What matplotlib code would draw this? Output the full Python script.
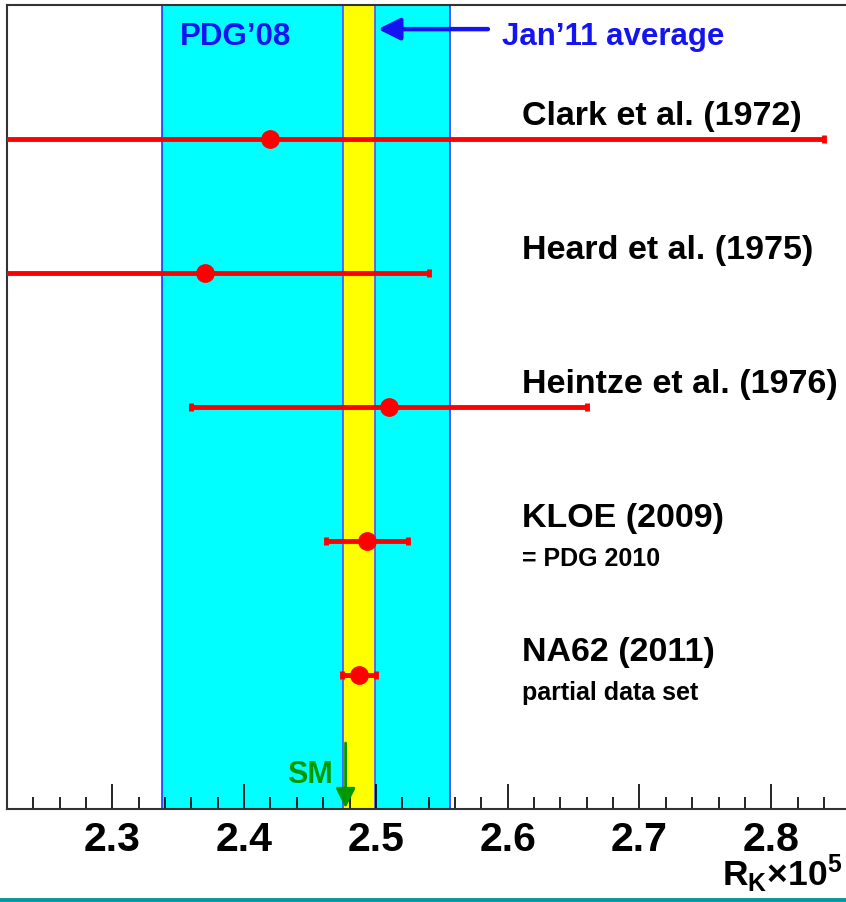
import numpy as np
import matplotlib
matplotlib.use('Agg')
import matplotlib.pyplot as plt
from matplotlib.lines import Line2D

plt.rcParams['font.family'] = ['Liberation Sans', 'DejaVu Sans']
plt.rcParams['font.weight'] = 'bold'
plt.rcParams['mathtext.fontset'] = 'custom'
plt.rcParams['mathtext.rm'] = 'Liberation Sans:bold'
plt.rcParams['mathtext.it'] = 'Liberation Sans:bold'
plt.rcParams['mathtext.bf'] = 'Liberation Sans:bold'

# R_K measurements (x 10^5)
experiments = ['Clark et al. (1972)', 'Heard et al. (1975)', 'Heintze et al. (1976)',
               'KLOE (2009)', 'NA62 (2011)']
notes = ['', '', '', '= PDG 2010', 'partial data set']
rk_values = [2.42, 2.37, 2.51, 2.493, 2.487]
rk_errors = [0.42, 0.17, 0.15, 0.031, 0.013]

# bands and SM prediction
pdg08_value, pdg08_error = 2.447, 0.109
jan11_value, jan11_error = 2.487, 0.012
sm_value = 2.477

tick_values = [2.3, 2.4, 2.5, 2.6, 2.7, 2.8]
tick_labels = ['2.3', '2.4', '2.5', '2.6', '2.7', '2.8']

rows = np.arange(len(experiments), 0, -1)

fig = plt.figure(figsize=(8.46, 9.02), dpi=100)
ax = fig.add_axes([6.86 / 846, 93 / 902, 896.2 / 846, 804 / 902])
ax.set_xlim(2.22, 2.90)
ax.set_ylim(0, 6)

# PDG'08 and Jan'11 bands
ax.axvspan(pdg08_value - pdg08_error, pdg08_value + pdg08_error,
           facecolor='#00ffff', edgecolor='#3030ff', lw=1.2, zorder=1)
ax.axvspan(jan11_value - jan11_error, jan11_value + jan11_error,
           facecolor='#ffff00', edgecolor='#5050ff', lw=1.2, zorder=1.5)

# measurements
ax.errorbar(rk_values, rows, xerr=rk_errors, fmt='o', color='red', ms=12.5,
            elinewidth=3.5, capsize=3, capthick=3.5, zorder=5)

for row, name, note in zip(rows, experiments, notes):
    ax.text(2.611, row + 0.104, name, fontsize=24.5, va='baseline', color='black')
    if note:
        ax.text(2.611, row - 0.19, note, fontsize=18, va='baseline', color='black')

# band labels
ax.text(2.3513, 5.701, "PDG\u201908", fontsize=22.5, color='#1414f0', va='baseline')
ax.text(2.5956, 5.701, "Jan\u201911 average", fontsize=22.5, color='#1414f0', va='baseline')
ax.annotate('', xy=(2.5016, 5.82), xytext=(2.585, 5.82),
            arrowprops=dict(arrowstyle='-|>', color='#1414f0', lw=3.2,
                            mutation_scale=33, shrinkA=0, shrinkB=0))

# SM arrow
ax.text(2.4675, 0.194, 'SM', fontsize=22, color='#009900', ha='right', va='baseline')
ax.annotate('', xy=(sm_value, 0.0075), xytext=(sm_value, 0.4925),
            arrowprops=dict(arrowstyle='-|>', color='#009900', lw=2,
                            mutation_scale=30, shrinkA=0, shrinkB=0), zorder=6)

# axes styling
ax.set_yticks([])
ax.set_xticks(tick_values)
ax.set_xticklabels(tick_labels)
ax.set_xticks(np.arange(2.24, 2.89, 0.02), minor=True)
ax.tick_params(axis='x', which='major', direction='in', length=18, width=1.2,
               labelsize=29.5, pad=8.5, color='black')
ax.tick_params(axis='x', which='minor', direction='in', length=8.6, width=1.2, color='black')
for side in ['left', 'top', 'bottom', 'right']:
    ax.spines[side].set_color('#333333')
    ax.spines[side].set_linewidth(1.5)

# axis title
fig.text(722 / 846, 16 / 902, r'R$_\mathrm{K}$×10$^\mathrm{5}$', fontsize=25.5,
         ha='left', va='baseline')

# slide footer line
fig.add_artist(Line2D([0, 1], [0.0022, 0.0022], transform=fig.transFigure,
                      color='#00999a', lw=2.8))

fig.savefig('out.png', dpi=100)
